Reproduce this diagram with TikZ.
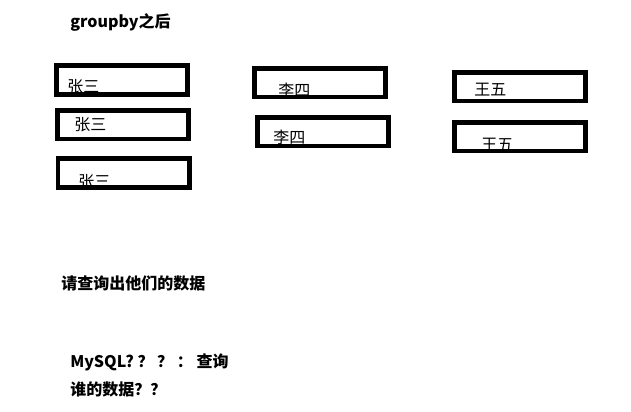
\documentclass[tikz,border=0pt]{standalone}
\usepackage{fontspec}
\setmainfont{Noto Sans CJK SC}
\begin{document}
\begin{tikzpicture}[x=0.75pt, y=-0.75pt, box node/.style={draw, line width=3.4pt, minimum width=98.6pt, minimum height=21.4pt, inner sep=0pt}, name node/.style={anchor=west, inner sep=0pt, font=\fontsize{12}{14}\selectfont}]
        \tikzstyle{every node}=[anchor=west, inner sep=0pt, font=\bfseries\fontsize{12}{14}\selectfont]
        \useasboundingbox (0,0) rectangle (631,411);

          % the names, drawn before the boxes
          \node[name node] (n1) at (67,87) {张三};
          \node[name node] (n2) at (74,125) {张三};
          \node[name node] (n3) at (78,182) {张三};
          \node[name node] (n4) at (278,90) {李四};
          \node[name node] (n5) at (273,137) {李四};
          \node[name node] (n6) at (474,90) {王五};
          \node[name node] (n7) at (481,145) {王五};

          \node[box node, anchor=center] (b1) at (122,80) {};
          \node[box node, anchor=center] (b2) at (123,124.5) {};
          \node[box node, anchor=center] (b3) at (123.5,173) {};
          \node[box node, anchor=center] (b4) at (320,82.5) {};
          \node[box node, anchor=center] (b5) at (323,131.5) {};
          \node[box node, anchor=center] (b6) at (520,86.5) {};
          \node[box node, anchor=center] (b7) at (520,136.5) {};

          \node (title) at (70,22) {groupby之后};
          \node (ask) at (61,283) {请查询出他们的数据};
          \node (q1) at (70,362) {MySQL? ？ ？ ： 查询};
          \node (q2) at (70,389) {谁的数据？？};

\end{tikzpicture}
\end{document}
